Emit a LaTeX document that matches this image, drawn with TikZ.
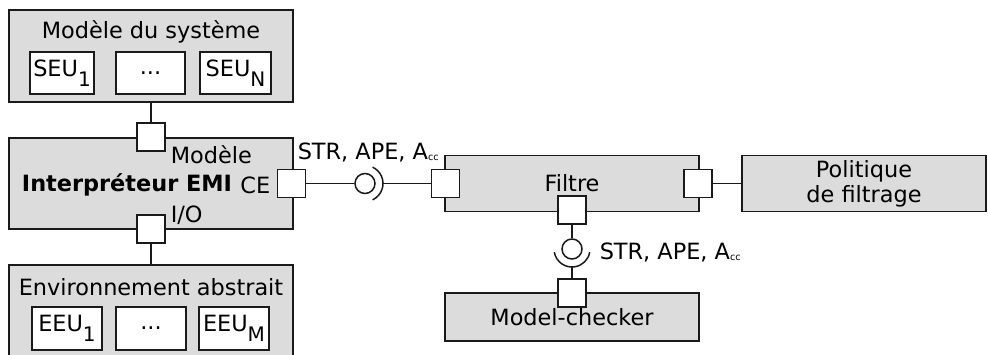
\documentclass[tikz,border=0pt]{standalone}
\usepackage{fontspec}
\setmainfont{DejaVu Sans}
\usepackage{tikz}
\usepackage{xcolor}
\usetikzlibrary{positioning,calc}
\definecolor{boxgray}{HTML}{DCDCDC}
\definecolor{ink}{HTML}{1A1A1A}
\newcommand{\acc}{A\raisebox{-0.5pt}{\fontsize{4.8}{4.8}\selectfont cc}}
\newcommand{\lowsub}[1]{\raisebox{-5pt}{\fontsize{10}{10}\selectfont #1}}

\begin{document}
\begin{tikzpicture}[x=0.5pt,y=0.5pt,every node/.style={font=\fontsize{11.2}{12.5}\selectfont},line width=0.75pt,draw=ink]
    \tikzstyle{comp}=[rectangle,draw=ink,fill=boxgray,inner sep=0pt];
    \tikzstyle{part}=[rectangle,draw=ink,fill=white,inner sep=0pt,minimum height=21pt];
    \tikzstyle{port}=[rectangle,draw=ink,fill=white,minimum size=14pt,inner sep=0pt];
    \tikzstyle{ball}=[circle,draw=ink,fill=white,minimum size=10pt,inner sep=0pt];
    \tikzstyle{lbl}=[inner sep=0pt];
    \useasboundingbox (0,0) rectangle (988,354);
    % left column
    \node[comp,minimum width=142pt,minimum height=46pt] (sys) at (151,298) {};
    \node[lbl] (sysT) at (151,322) {Modèle du système};
    \node[part,minimum width=32pt] (seu1) at (62,281) {SEU\lowsub{1}};
    \node[part,minimum width=34.5pt] (seud) at (150.5,281) {...};
    \node[part,minimum width=35.5pt] (seun) at (235.5,281) {SEU\lowsub{N}};
    \node[comp,minimum width=142pt,minimum height=45.5pt] (interp) at (151,170.5) {};
    \node[lbl] (interpT) at (127,169) {\bfseries Interpréteur EMI};
    \node[comp,minimum width=142pt,minimum height=46.5pt] (env) at (151,42.5) {};
    \node[lbl] (envT) at (151,67) {Environnement abstrait};
    \node[part,minimum width=35pt,minimum height=21.5pt] (eeu1) at (67,25.5) {EEU\lowsub{1}};
    \node[part,minimum width=35pt,minimum height=21.5pt] (eeud) at (151,25.5) {...};
    \node[part,minimum width=35pt,minimum height=21.5pt] (eeum) at (234,25.5) {EEU\lowsub{M}};
    \node[port] (pModele) at (151,217) {};
    \node[port] (pIO) at (151,125) {};
    \node[port] (pCE) at (291.5,170.5) {};
    \node[lbl,anchor=west] (lModele) at (170,199) {Modèle};
    \node[lbl,anchor=east] (lCE) at (271,169) {CE};
    \node[lbl,anchor=west] (lIO) at (170,139) {I/O};
    \draw (sys.south) -- (pModele.north);
    \draw (pIO.south) -- (env.north);
    % filter side
    \node[comp,minimum width=127pt,minimum height=28pt] (filtre) at (572,170.5) {Filtre};
    \node[comp,minimum width=122pt,minimum height=28pt,align=center] (pol) at (864,170.5) {Politique\\de filtrage};
    \node[comp,minimum width=127pt,minimum height=24pt] (mc) at (572,37) {Model-checker};
    \node[port] (pFin) at (445.5,170.5) {};
    \node[port] (pFout) at (698,170.5) {};
    \node[port] (pFmc) at (572,144) {};
    \node[port] (pMC) at (572,61) {};
    \node[ball] (lol1) at (365,170.5) {};
    \node[ball] (lol2) at (572,105) {};
    \coordinate (s1) at ([xshift=9pt]lol1.center);
    \coordinate (s2) at ([yshift=-9pt]lol2.center);
    \draw ([shift={(-65:9pt)}]lol1.center) arc[start angle=-65,end angle=65,radius=9pt];
    \draw ([shift={(190:9pt)}]lol2.center) arc[start angle=190,end angle=350,radius=9pt];
    \draw (pCE.east) -- (lol1.west);
    \draw (s1) -- (pFin.west);
    \draw (pFout.east) -- (pol.west);
    \draw (pFmc.south) -- (lol2.north);
    \draw (s2) -- (pMC.north);
    \node[lbl,anchor=west] (lab1) at (297,202) {STR, APE, \acc};
    \node[lbl,anchor=west] (lab2) at (599,102) {STR, APE, \acc};
\end{tikzpicture}
\end{document}
